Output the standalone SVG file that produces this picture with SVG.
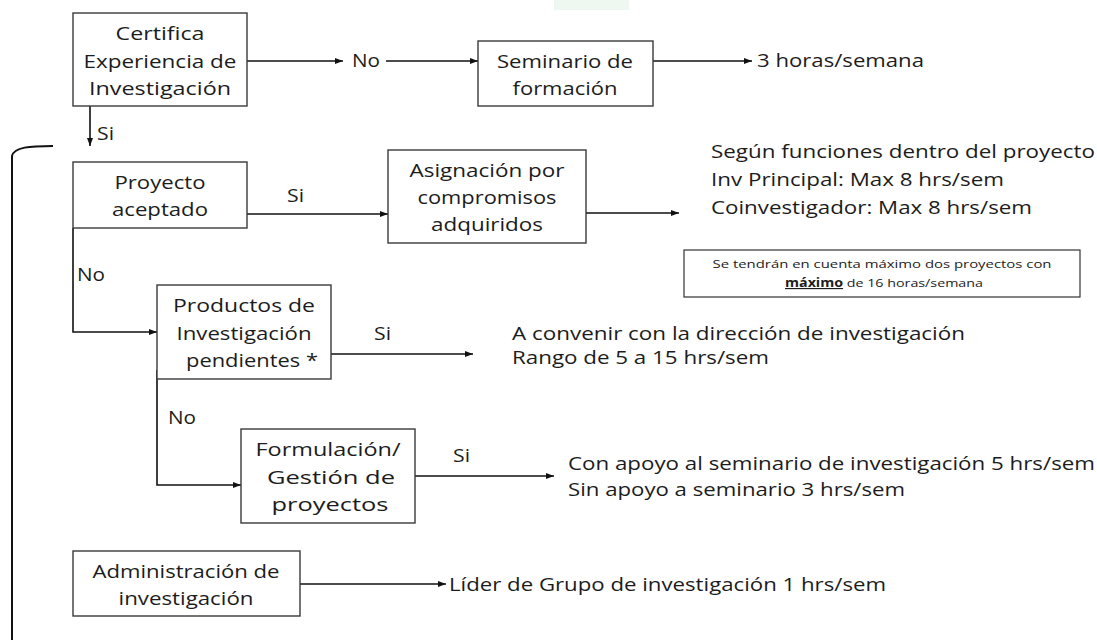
<svg xmlns="http://www.w3.org/2000/svg" width="1097" height="643" viewBox="0 0 1097 643">
<style>
.box{fill:#fff;stroke:#3a3a3a;stroke-width:1.4}
.t{font-family:"Open Sans","Liberation Sans",sans-serif;font-size:18.5px;fill:#1c1c1c}
.c{text-anchor:middle}
.s{font-family:"Open Sans","Liberation Sans",sans-serif;font-size:11.5px;fill:#1c1c1c}
.ln{fill:none;stroke:#111;stroke-width:1.6}
</style>
<defs>
<marker id="ah" markerWidth="9" markerHeight="8" refX="8" refY="4" orient="auto" markerUnits="userSpaceOnUse">
<path d="M0,1 L8,4 L0,7 Z" fill="#111"/>
</marker>
</defs>
<rect x="554" y="0" width="75" height="10" fill="#eef7f0"/>
<g id="connectors">
<path class="ln" d="M247,61 H343" marker-end="url(#ah)"/>
<path class="ln" d="M386,61 H478" marker-end="url(#ah)"/>
<path class="ln" d="M653,61 H752" marker-end="url(#ah)"/>
<path class="ln" d="M90,106 V146" marker-end="url(#ah)"/>
<path class="ln" d="M247,214 H388" marker-end="url(#ah)"/>
<path class="ln" d="M586,213 H679" marker-end="url(#ah)"/>
<path class="ln" d="M73,228 V332 H157" marker-end="url(#ah)"/>
<path class="ln" d="M331,354 H473" marker-end="url(#ah)"/>
<path class="ln" d="M157,370 V485 H241" marker-end="url(#ah)"/>
<path class="ln" d="M415,476 H554" marker-end="url(#ah)"/>
<path class="ln" d="M300,584 H446" marker-end="url(#ah)"/>
<path class="ln" d="M53,146 C30,146 14,147 12,156 V640" style="stroke-width:2"/>
<text class="t" x="352" y="67" textLength="28" lengthAdjust="spacingAndGlyphs">No</text>
<text class="t" x="97" y="140" textLength="17" lengthAdjust="spacingAndGlyphs">Si</text>
<text class="t" x="287" y="202" textLength="17" lengthAdjust="spacingAndGlyphs">Si</text>
<text class="t" x="77" y="281" textLength="28" lengthAdjust="spacingAndGlyphs">No</text>
<text class="t" x="374" y="340" textLength="17" lengthAdjust="spacingAndGlyphs">Si</text>
<text class="t" x="168" y="424" textLength="28" lengthAdjust="spacingAndGlyphs">No</text>
<text class="t" x="453" y="462" textLength="17" lengthAdjust="spacingAndGlyphs">Si</text>
</g>
<g id="certifica">
<rect class="box" x="73" y="13" width="174" height="93"/>
<text class="t c" x="160" y="40" textLength="89" lengthAdjust="spacingAndGlyphs">Certifica</text>
<text class="t c" x="160" y="68" textLength="153" lengthAdjust="spacingAndGlyphs">Experiencia de</text>
<text class="t c" x="160" y="95" textLength="142" lengthAdjust="spacingAndGlyphs">Investigación</text>
</g>
<g id="seminario">
<rect class="box" x="478" y="41" width="175" height="65"/>
<text class="t c" x="565" y="68" textLength="136" lengthAdjust="spacingAndGlyphs">Seminario de</text>
<text class="t c" x="565" y="95" textLength="105" lengthAdjust="spacingAndGlyphs">formación</text>
</g>
<g id="horas-semana">
<text class="t" x="757" y="67" textLength="167" lengthAdjust="spacingAndGlyphs">3 horas/semana</text>
</g>
<g id="proyecto">
<rect class="box" x="73" y="162" width="174" height="66"/>
<text class="t c" x="160" y="189" textLength="91" lengthAdjust="spacingAndGlyphs">Proyecto</text>
<text class="t c" x="160" y="216" textLength="96" lengthAdjust="spacingAndGlyphs">aceptado</text>
</g>
<g id="asignacion">
<rect class="box" x="388" y="150" width="198" height="93"/>
<text class="t c" x="487" y="177" textLength="155" lengthAdjust="spacingAndGlyphs">Asignación por</text>
<text class="t c" x="487" y="204" textLength="139" lengthAdjust="spacingAndGlyphs">compromisos</text>
<text class="t c" x="487" y="231" textLength="112" lengthAdjust="spacingAndGlyphs">adquiridos</text>
</g>
<g id="funciones">
<text class="t" x="711" y="158" textLength="384" lengthAdjust="spacingAndGlyphs">Según funciones dentro del proyecto</text>
<text class="t" x="711" y="186" textLength="293" lengthAdjust="spacingAndGlyphs">Inv Principal: Max 8 hrs/sem</text>
<text class="t" x="711" y="214" textLength="321" lengthAdjust="spacingAndGlyphs">Coinvestigador: Max 8 hrs/sem</text>
</g>
<g id="nota">
<rect x="684" y="250" width="396" height="47" fill="#fff" stroke="#333" stroke-width="1.2"/>
<text class="s" x="882" y="268" text-anchor="middle" textLength="339" lengthAdjust="spacingAndGlyphs">Se tendrán en cuenta máximo dos proyectos con</text>
<text class="s" x="884" y="287" text-anchor="middle" textLength="198" lengthAdjust="spacingAndGlyphs"><tspan font-weight="bold" text-decoration="underline">máximo</tspan> de 16 horas/semana</text>
</g>
<g id="productos">
<rect class="box" x="157" y="285" width="174" height="94"/>
<text class="t c" x="244" y="312" textLength="142" lengthAdjust="spacingAndGlyphs">Productos de</text>
<text class="t c" x="244" y="340" textLength="135" lengthAdjust="spacingAndGlyphs">Investigación</text>
<text class="t c" x="252" y="367" textLength="132" lengthAdjust="spacingAndGlyphs">pendientes *</text>
</g>
<g id="convenir">
<text class="t" x="512" y="340" textLength="453" lengthAdjust="spacingAndGlyphs">A convenir con la dirección de investigación</text>
<text class="t" x="512" y="364" textLength="257" lengthAdjust="spacingAndGlyphs">Rango de 5 a 15 hrs/sem</text>
</g>
<g id="formulacion">
<rect class="box" x="241" y="429" width="174" height="94"/>
<text class="t c" x="328" y="456" textLength="145" lengthAdjust="spacingAndGlyphs">Formulación/</text>
<text class="t c" x="331" y="484" textLength="128" lengthAdjust="spacingAndGlyphs">Gestión de</text>
<text class="t c" x="330" y="511" textLength="117" lengthAdjust="spacingAndGlyphs">proyectos</text>
</g>
<g id="apoyo">
<text class="t" x="568" y="470" textLength="527" lengthAdjust="spacingAndGlyphs">Con apoyo al seminario de investigación 5 hrs/sem</text>
<text class="t" x="568" y="496" textLength="337" lengthAdjust="spacingAndGlyphs">Sin apoyo a seminario 3 hrs/sem</text>
</g>
<g id="administracion">
<rect class="box" x="73" y="551" width="227" height="65"/>
<text class="t c" x="186" y="578" textLength="187" lengthAdjust="spacingAndGlyphs">Administración de</text>
<text class="t c" x="186" y="605" textLength="135" lengthAdjust="spacingAndGlyphs">investigación</text>
</g>
<g id="lider">
<text class="t" x="449" y="591" textLength="437" lengthAdjust="spacingAndGlyphs">Líder de Grupo de investigación 1 hrs/sem</text>
</g>
</svg>
